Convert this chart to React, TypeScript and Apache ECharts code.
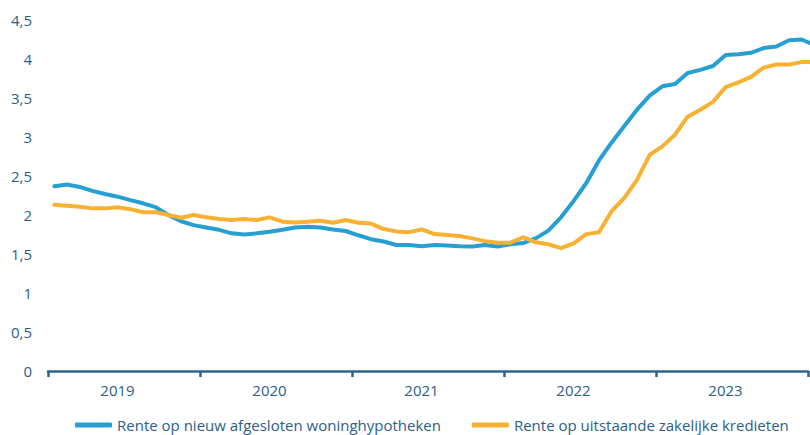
import React, { useEffect, useRef } from 'react';
import * as echarts from 'echarts';

const years = ['2019', '2020', '2021', '2022', '2023'];
const seriesNames = ['Rente op nieuw afgesloten woninghypotheken', 'Rente op uitstaande zakelijke kredieten'];

// Monthly values, January 2019 to January 2024
const hypotheken = [
  2.37, 2.39, 2.36, 2.31, 2.27, 2.235, 2.19, 2.15, 2.10, 2.00,
  1.92, 1.87, 1.84, 1.81, 1.765, 1.75, 1.765, 1.785, 1.81, 1.84,
  1.85, 1.84, 1.815, 1.795, 1.74, 1.69, 1.66, 1.615, 1.615, 1.60,
  1.615, 1.61, 1.60, 1.595, 1.615, 1.595, 1.625, 1.64, 1.70, 1.80,
  1.97, 2.18, 2.41, 2.70, 2.93, 3.14, 3.35, 3.53, 3.65, 3.68,
  3.82, 3.86, 3.91, 4.05, 4.06, 4.08, 4.14, 4.16, 4.24, 4.25, 4.18,
];
const zakelijk = [
  2.13, 2.12, 2.105, 2.085, 2.085, 2.10, 2.075, 2.035, 2.035, 2.0,
  1.965, 2.0, 1.97, 1.95, 1.935, 1.95, 1.935, 1.97, 1.915, 1.905,
  1.915, 1.925, 1.90, 1.935, 1.90, 1.89, 1.82, 1.79, 1.78, 1.815,
  1.755, 1.745, 1.73, 1.70, 1.665, 1.645, 1.645, 1.715, 1.65, 1.625,
  1.575, 1.635, 1.755, 1.78, 2.05, 2.22, 2.45, 2.77, 2.88, 3.03,
  3.26, 3.35, 3.45, 3.64, 3.70, 3.77, 3.89, 3.93, 3.93, 3.96, 3.96,
];

const BLUE = '#279FD2';
const ORANGE = '#F8B133';
const AXIS = '#2A6594';
const LABEL = '#2C5E8A';
const FONT = 'Open Sans';

const toPoints = (vals: number[]) => vals.map((v, i) => [i + 0.5, v]);

export default function App() {
  const ref = useRef<HTMLDivElement>(null);
  useEffect(() => {
    document.body.style.margin = '0';
    const chart = echarts.init(ref.current!, null, { renderer: 'svg' });
    chart.setOption({
      animation: false,
      backgroundColor: '#ffffff',
      grid: { left: 48, right: 2, top: 20, bottom: 64 },
      legend: {
        data: seriesNames,
        left: 75,
        top: 416,
        padding: 0,
        icon: 'roundRect',
        itemWidth: 37,
        itemHeight: 5,
        itemGap: 31,
        textStyle: { color: LABEL, fontSize: 15, fontFamily: FONT, lineHeight: 18 },
      },
      xAxis: [
        {
          type: 'category',
          data: years,
          boundaryGap: true,
          axisLine: { show: true, lineStyle: { color: AXIS, width: 2.5 } },
          axisTick: { show: true, length: 6, lineStyle: { color: AXIS, width: 2.5 } },
          axisLabel: {
            color: LABEL,
            fontSize: 15,
            fontFamily: FONT,
            margin: 11,
            padding: [0, 13, 0, 0],
          },
          splitLine: { show: false },
        },
        {
          type: 'value',
          min: 0,
          max: 60,
          show: false,
          splitLine: { show: false },
        },
      ],
      yAxis: {
        type: 'value',
        min: 0,
        max: 4.5,
        interval: 0.5,
        axisLine: { show: false },
        axisTick: { show: false },
        splitLine: { show: false },
        axisLabel: {
          color: LABEL,
          fontSize: 15,
          fontFamily: FONT,
          margin: 16,
          formatter: (v: number) => String(v).replace('.', ','),
        },
      },
      series: [
        {
          name: seriesNames[0],
          type: 'line',
          xAxisIndex: 1,
          data: toPoints(hypotheken),
          symbol: 'none',
          lineStyle: { color: BLUE, width: 4, cap: 'round', join: 'round' },
          itemStyle: { color: BLUE },
        },
        {
          name: seriesNames[1],
          type: 'line',
          xAxisIndex: 1,
          data: toPoints(zakelijk),
          symbol: 'none',
          lineStyle: { color: ORANGE, width: 4, cap: 'round', join: 'round' },
          itemStyle: { color: ORANGE },
        },
      ],
    });
    return () => chart.dispose();
  }, []);
  return <div ref={ref} style={{ width: 810, height: 435 }} />;
}
